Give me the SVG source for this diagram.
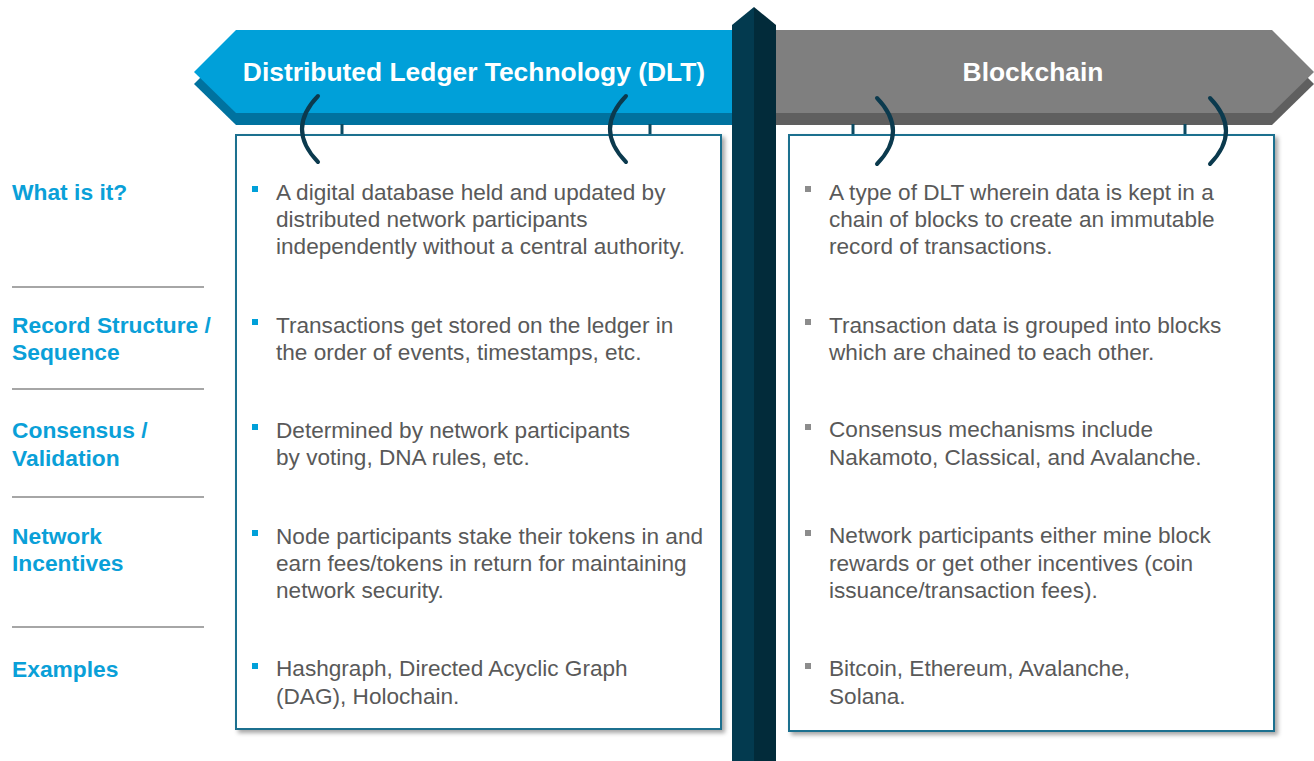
<svg xmlns="http://www.w3.org/2000/svg" width="1314" height="761" viewBox="0 0 1314 761">
<defs>
<filter id="sh" x="-5%" y="-5%" width="115%" height="115%">
<feDropShadow dx="3" dy="3" stdDeviation="2" flood-color="#000" flood-opacity="0.35"/>
</filter>
</defs>
<style>
.lbl{font-family:"Liberation Sans",Arial,sans-serif;font-weight:bold;font-size:22.8px;fill:#0aa0d8}
.txt{font-family:"Liberation Sans",Arial,sans-serif;font-size:22.6px;fill:#595959}
.ttl{font-family:"Liberation Sans",Arial,sans-serif;font-weight:bold;font-size:26.4px;fill:#fff}
.sep{stroke:#a6a6a6;stroke-width:2}
.box{fill:#fff;stroke:#1b6f8f;stroke-width:2}
.hook{fill:none;stroke:#0b3a4e;stroke-width:4;stroke-linecap:round}
.tick{stroke:#0b4a62;stroke-width:3}
</style>
<rect width="1314" height="761" fill="#fff"/>

<g id="dlt-banner">
<polygon points="194,84 236,42 733,42 733,125 236,125" fill="#00729f"/>
<polygon points="194,72 236,30 733,30 733,113 236,113" fill="#00a0d9"/>
<text class="ttl" x="474" y="81" text-anchor="middle">Distributed Ledger Technology (DLT)</text>
</g>

<g id="blockchain-banner">
<polygon points="776,42 1272,42 1314,84 1272,125 776,125" fill="#5f5f5f"/>
<polygon points="776,30 1272,30 1314,72 1272,113 776,113" fill="#7f7f7f"/>
<text class="ttl" x="1033" y="81" text-anchor="middle">Blockchain</text>
</g>

<g id="ticks">
<line class="tick" x1="342" y1="124" x2="342" y2="135"/>
<line class="tick" x1="650" y1="124" x2="650" y2="135"/>
<line class="tick" x1="853" y1="124" x2="853" y2="135"/>
<line class="tick" x1="1185" y1="124" x2="1185" y2="135"/>
</g>

<g id="dlt-box">
<rect class="box" x="236" y="135" width="485" height="594" filter="url(#sh)"/>
<g fill="#00a0d9">
<rect x="252" y="186" width="6" height="6"/>
<rect x="252" y="319" width="6" height="6"/>
<rect x="252" y="424" width="6" height="6"/>
<rect x="252" y="530" width="6" height="6"/>
<rect x="252" y="663" width="6" height="6"/>
</g>
<text class="txt" x="276" y="200">A digital database held and updated by</text>
<text class="txt" x="276" y="227">distributed network participants</text>
<text class="txt" x="276" y="254">independently without a central authority.</text>
<text class="txt" x="276" y="333">Transactions get stored on the ledger in</text>
<text class="txt" x="276" y="360">the order of events, timestamps, etc.</text>
<text class="txt" x="276" y="438">Determined by network participants</text>
<text class="txt" x="276" y="465">by voting, DNA rules, etc.</text>
<text class="txt" x="276" y="544">Node participants stake their tokens in and</text>
<text class="txt" x="276" y="571">earn fees/tokens in return for maintaining</text>
<text class="txt" x="276" y="598">network security.</text>
<text class="txt" x="276" y="676">Hashgraph, Directed Acyclic Graph</text>
<text class="txt" x="276" y="704">(DAG), Holochain.</text>
</g>

<g id="blockchain-box">
<rect class="box" x="789" y="135" width="485" height="596" filter="url(#sh)"/>
<g fill="#8c8c8c">
<rect x="805" y="186" width="6" height="6"/>
<rect x="805" y="319" width="6" height="6"/>
<rect x="805" y="424" width="6" height="6"/>
<rect x="805" y="530" width="6" height="6"/>
<rect x="805" y="663" width="6" height="6"/>
</g>
<text class="txt" x="829" y="200">A type of DLT wherein data is kept in a</text>
<text class="txt" x="829" y="227">chain of blocks to create an immutable</text>
<text class="txt" x="829" y="254">record of transactions.</text>
<text class="txt" x="829" y="333">Transaction data is grouped into blocks</text>
<text class="txt" x="829" y="360">which are chained to each other.</text>
<text class="txt" x="829" y="437">Consensus mechanisms include</text>
<text class="txt" x="829" y="465">Nakamoto, Classical, and Avalanche.</text>
<text class="txt" x="829" y="543">Network participants either mine block</text>
<text class="txt" x="829" y="571">rewards or get other incentives (coin</text>
<text class="txt" x="829" y="598">issuance/transaction fees).</text>
<text class="txt" x="829" y="676">Bitcoin, Ethereum, Avalanche,</text>
<text class="txt" x="829" y="704">Solana.</text>
</g>

<g id="hooks">
<path class="hook" d="M318,96 Q286,129 318,162"/>
<path class="hook" d="M626,96 Q594,129 626,162"/>
<path class="hook" d="M877,98 Q909,131 877,164"/>
<path class="hook" d="M1210,98 Q1242,131 1210,164"/>
</g>

<g id="pillar">
<polygon points="732,25 754,7 754,761 732,761" fill="#033a4f"/>
<polygon points="754,7 776,25 776,761 754,761" fill="#022b3a"/>
</g>

<g id="row-labels">
<text class="lbl" x="12" y="200">What is it?</text>
<line class="sep" x1="12" y1="287" x2="204" y2="287"/>
<text class="lbl" x="12" y="333">Record Structure /</text>
<text class="lbl" x="12" y="360">Sequence</text>
<line class="sep" x1="12" y1="389" x2="204" y2="389"/>
<text class="lbl" x="12" y="438">Consensus /</text>
<text class="lbl" x="12" y="466">Validation</text>
<line class="sep" x1="12" y1="497" x2="204" y2="497"/>
<text class="lbl" x="12" y="544">Network</text>
<text class="lbl" x="12" y="571">Incentives</text>
<line class="sep" x1="12" y1="627" x2="204" y2="627"/>
<text class="lbl" x="12" y="677">Examples</text>
</g>
</svg>
